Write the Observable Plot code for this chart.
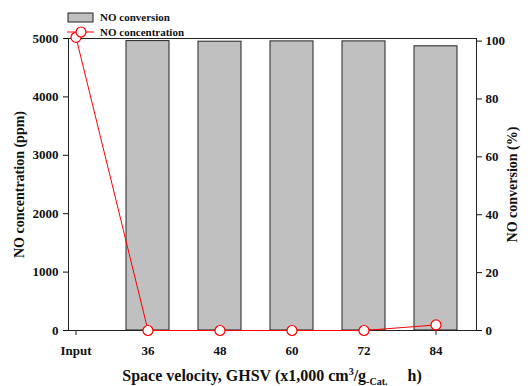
<!DOCTYPE html>
<html>
<head>
<meta charset="utf-8">
<script src="https://cdn.jsdelivr.net/npm/d3@7"></script>
<script src="https://cdn.jsdelivr.net/npm/@observablehq/plot@0.6"></script>
<style>
  html, body { margin: 0; padding: 0; background: #fff; }
  #chart svg { display: block; }
  #chart [aria-label="y-axis label"] text { font-size: 14px; }
</style>
</head>
<body>
<div id="chart"></div>
<script>
// Space velocity categories (x1,000 cm3/g-Cat. h)
const categories = ["Input", "36", "48", "60", "72", "84"];
// Outlet NO concentration (ppm), left axis
const concentration = [5020, 0, 0, 0, 0, 95];
// NO conversion (%), right axis (no bar for the inlet)
const conversionCats = ["36", "48", "60", "72", "84"];
const conversion = [100, 99.8, 99.9, 99.9, 98.2];
// Axis ticks
const leftTicks = [0, 1000, 2000, 3000, 4000, 5000];
const rightTicks = [0, 20, 40, 60, 80, 100];

// Right axis 0–100.9 % shares the left 0–5000 ppm scale
const pctMax = 100.9, ppmMax = 5000;
const k = ppmMax / pctMax;

const concData = categories.map((c, i) => ({cat: c, conc: concentration[i]}));
const convData = conversionCats.map((c, i) => ({cat: c, conv: conversion[i]}));

const W = 530, H = 386;
const mL = 68, mR = 54, mT = 38, mB = 56;
const step = 72.4;

const chart = Plot.plot({
  width: W,
  height: H,
  marginLeft: mL,
  marginRight: mR,
  marginTop: mT,
  marginBottom: mB,
  style: {fontFamily: "'Liberation Serif', 'Times New Roman', serif", fontWeight: "bold", fontSize: "13px", color: "#111", background: "#fff"},
  x: {type: "band", domain: categories, paddingInner: 0.4, paddingOuter: 0.2,
      range: [mL + 7 - step / 2, mL + 7 - step / 2 + 6 * step]},
  y: {domain: [0, ppmMax]},
  marks: [
    Plot.barY(convData, {x: "cat", y: d => d.conv * k, fill: "#c0c0c0", stroke: "#222", strokeWidth: 1}),
    Plot.frame({stroke: "#222", strokeWidth: 1}),
    Plot.axisX({tickSize: 5, tickPadding: 10, label: null, stroke: "#222"}),
    Plot.axisY(leftTicks, {anchor: "left", tickSize: 5, tickPadding: 5,
      tickFormat: d => String(d),
      label: "NO concentration (ppm)", labelAnchor: "center", labelArrow: "none", labelOffset: 54}),
    Plot.axisY(rightTicks.map(d => d * k), {anchor: "right", tickSize: 5, tickPadding: 4,
      tickFormat: d => String(Math.round(d / k)),
      label: "NO conversion (%)", labelAnchor: "center", labelArrow: "none", labelOffset: 40}),
    Plot.line(concData, {x: "cat", y: "conc", stroke: "#ff0000", strokeWidth: 1}),
    Plot.dot(concData, {x: "cat", y: "conc", r: 5, fill: "#fff", stroke: "#ff0000", strokeWidth: 1.2})
  ]
});

document.getElementById("chart").appendChild(chart);

// Legend and x-axis title drawn into the same SVG
const svg = d3.select(chart);
const font = "'Liberation Serif', 'Times New Roman', serif";
const lg = svg.append("g").attr("font-family", font).attr("font-weight", "bold")
  .attr("font-size", 11).attr("text-anchor", "start").attr("fill", "#111");
lg.append("rect").attr("x", 68).attr("y", 13).attr("width", 25).attr("height", 9)
  .attr("fill", "#c0c0c0").attr("stroke", "#222");
lg.append("text").attr("x", 100).attr("y", 21).text("NO conversion");
lg.append("line").attr("x1", 67).attr("x2", 94).attr("y1", 32).attr("y2", 32)
  .attr("stroke", "#ff0000");
lg.append("circle").attr("cx", 81).attr("cy", 32).attr("r", 5)
  .attr("fill", "#fff").attr("stroke", "#ff0000").attr("stroke-width", 1.2);
lg.append("text").attr("x", 100).attr("y", 36).text("NO concentration");

const xt = svg.append("text")
  .attr("x", (mL + (W - mR)) / 2).attr("y", 381)
  .attr("text-anchor", "middle")
  .attr("font-family", font).attr("font-weight", "bold").attr("font-size", 16)
  .attr("fill", "#111");
xt.append("tspan").text("Space velocity, GHSV (x1,000 cm");
xt.append("tspan").attr("font-size", 10).attr("dy", -6).text("3");
xt.append("tspan").attr("dy", 6).text("/g");
xt.append("tspan").attr("font-size", 10).attr("dy", 4).text("-Cat.");
xt.append("tspan").attr("dy", -4).text("\u00a0\u00a0\u00a0\u00a0 h)");
</script>
</body>
</html>
